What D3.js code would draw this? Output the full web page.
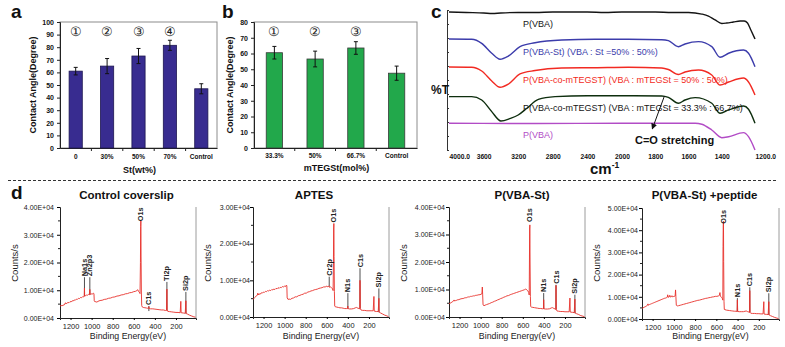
<!DOCTYPE html>
<html>
<head>
<meta charset="utf-8">
<script src="https://cdn.jsdelivr.net/npm/d3@7"></script>
<style>
  body { margin: 0; background: #fff; }
  svg { display: block; }
  text { font-family: "Liberation Sans", Arial, sans-serif; }
</style>
</head>
<body>
<svg id="fig" width="785" height="347"></svg>
<script>
// ---------------- data ----------------
// (a) contact angle vs styrene content
const stCategories = ["0", "30%", "50%", "70%", "Control"];
const stAngles = [61, 65, 73, 81.5, 47];
const stErrors = [3, 6, 6, 4, 4];
const stMarks = ["\u2460", "\u2461", "\u2462", "\u2463"];

// (b) contact angle vs mTEGSt content
const tegCategories = ["33.3%", "50%", "66.7%", "Control"];
const tegAngles = [60.5, 56.5, 63.5, 47.5];
const tegErrors = [4, 5, 4, 4.5];
const tegMarks = ["\u2460", "\u2461", "\u2462"];

// (c) FTIR spectra: [wavenumber, offset %T]
const ftirTicks = [4000, 3600, 3200, 2800, 2400, 2000, 1800, 1600, 1400, 1200];
const irVBA = [[4000,98.6],[3800,98.2],[3600,97.9],[3500,97.5],[3400,97.9],[3200,98.2],[3000,98.2],[2800,98.6],[2600,98.6],[2400,98.6],[2200,98.2],[2000,98.6],[1800,98.6],[1700,98.2],[1600,98.2],[1520,97.1],[1480,95.7],[1440,92.9],[1400,90.4],[1370,90.7],[1330,91.4],[1290,92.1],[1265,92.1],[1245,90.7],[1225,85.7],[1200,79.3]];
const irVBASt = [[4000,79.3],[3738,79.1],[3622,76.2],[3506,69.1],[3410,64.8],[3314,67.1],[3179,73.8],[3006,76.6],[2697,78.6],[2312,79.1],[1962,79.1],[1761,78.8],[1721,78.1],[1661,73.8],[1621,75.7],[1540,77.4],[1460,73.8],[1410,66.2],[1359,69.1],[1269,71.4],[1239,69.1],[1200,59.5]];
const irTEG50 = [[4000,59.3],[3738,59.1],[3622,56.4],[3506,49.3],[3410,44.8],[3314,47.1],[3179,54.3],[3006,56.8],[2697,58.6],[2312,58.8],[1962,59.1],[1761,58.6],[1721,57.5],[1661,53.9],[1621,55.7],[1540,57.1],[1460,53.6],[1410,46.4],[1359,48.6],[1269,51.4],[1239,48.6],[1200,39.3]];
const irTEG67 = [[4000,38.1],[3738,38.1],[3622,35.7],[3506,27.4],[3400,20.7],[3290,22.6],[3200,25],[3100,29.8],[2967,36.2],[2774,38.1],[2400,38.8],[2000,38.8],[1761,38.6],[1721,37.6],[1661,33.4],[1621,35.7],[1560,37.4],[1460,33.4],[1410,26.2],[1359,28.6],[1269,31.4],[1239,29.1],[1200,19.1]];
const irVBA2 = [[4000,19.1],[3000,18.9],[2000,19.1],[1560,19.1],[1520,18.4],[1460,14.3],[1400,8.8],[1359,9.5],[1269,12.4],[1239,9.5],[1200,0]];
const irNames = ["P(VBA)", "P(VBA-St) (VBA : St =50% : 50%)",
  "P(VBA-co-mTEGST)  (VBA : mTEGSt  = 50% : 50%)",
  "P(VBA-co-mTEGST)  (VBA : mTEGSt  = 33.3% : 66.7%)", "P(VBA)"];
const irColors = ["#141414", "#3c3cab", "#f22a22", "#0e2e0e", "#b24cc6"];
const irLabelLevels = [88, 67.9, 47.6, 27.9, 8.8];

// (d) XPS survey spectra: [binding energy eV, counts/s]
const xpsTicks = [1200, 1000, 800, 600, 400, 200];
const xpsControl = [[1300,4300],[1290,4500],[1280,4400],[1270,4700],[1262,4600],[1255,5000],[1248,5500],[1244,5100],[1235,5300],[1225,5600],[1215,5500],[1205,5900],[1195,5800],[1185,6200],[1175,6100],[1165,6500],[1155,6400],[1145,6800],[1135,6700],[1125,7100],[1115,7000],[1105,7400],[1095,7300],[1085,7700],[1075,7600],[1070,7900],[1068,10800],[1066,7900],[1058,8000],[1050,8300],[1040,8200],[1030,8500],[1020,8400],[1017,10300],[1014,8500],[1005,8700],[995,8600],[985,8900],[978,8800],[975,6200],[968,5800],[960,5900],[950,5700],[940,6000],[920,6300],[900,6400],[880,6700],[860,6800],[840,7100],[820,7200],[800,7500],[780,7600],[760,7900],[740,8000],[720,8300],[700,8400],[680,8700],[660,8800],[640,9100],[620,9200],[600,9500],[585,9600],[570,9900],[562,10200],[556,9600],[548,9300],[541,8800],[537,20000],[535,33000],[533,35000],[531,22000],[528,9000],[525,4500],[520,4000],[510,3800],[495,3700],[480,3600],[468,3500],[460,3500],[457,4100],[454,3400],[440,3300],[420,3300],[400,3200],[380,3100],[360,3000],[340,2900],[320,2900],[300,2700],[290,2700],[286,10400],[283,2900],[278,2400],[260,2300],[240,2200],[220,2100],[200,2000],[180,2000],[160,1900],[154,6000],[151,1900],[130,1800],[112,1700],[106,6200],[103,1600],[90,1400],[70,1000],[50,700],[30,400],[15,300]];
const xpsAptes = [[1300,4800],[1292,5000],[1284,5300],[1276,5500],[1268,5800],[1260,5900],[1254,6500],[1250,6000],[1242,6300],[1232,6200],[1222,6600],[1212,6500],[1202,6800],[1192,6700],[1182,7000],[1172,6900],[1162,7200],[1152,7100],[1142,7300],[1132,7200],[1122,7500],[1112,7400],[1102,7600],[1092,7500],[1082,7800],[1072,7700],[1062,8000],[1052,7800],[1042,8100],[1032,8000],[1022,8300],[1012,8200],[1002,8400],[992,8300],[984,8700],[979,8500],[976,5200],[968,4800],[958,4900],[945,4800],[930,5100],[915,5200],[900,5500],[885,5500],[870,5800],[855,5900],[840,6100],[825,6200],[810,6500],[795,6500],[780,6800],[765,6900],[750,7100],[735,7200],[720,7400],[705,7500],[690,7600],[675,7800],[660,7900],[645,8000],[630,8200],[615,8200],[600,8400],[590,8200],[580,8500],[575,8100],[565,8200],[555,8000],[546,7700],[540,7200],[537,15000],[535,24000],[533,25500],[531,16500],[528,7000],[525,3000],[520,2800],[505,2700],[490,2600],[475,2500],[460,2500],[445,2400],[430,2300],[415,2300],[403,2300],[401,3000],[398,2300],[385,2200],[365,2200],[345,2300],[330,2500],[318,2600],[305,2400],[293,2300],[287,2200],[285,10000],[282,2300],[275,1900],[260,1800],[240,1800],[220,1700],[200,1700],[180,1700],[160,1700],[153,5600],[150,1600],[130,1500],[112,1500],[106,5100],[103,1300],[90,1100],[70,800],[50,500],[30,300],[15,100]];
const xpsVbaSt = [[1300,4800],[1290,5000],[1280,5200],[1270,5500],[1260,5700],[1252,6200],[1246,5800],[1236,6000],[1226,6100],[1216,6300],[1206,6300],[1196,6500],[1186,6600],[1176,6700],[1166,6700],[1156,6900],[1146,7000],[1136,7000],[1126,7200],[1116,7300],[1106,7300],[1096,7500],[1086,7500],[1076,7600],[1066,7700],[1056,7700],[1046,7900],[1036,7900],[1026,8000],[1016,8100],[1006,8100],[996,8300],[988,8400],[984,10900],[981,8300],[977,4400],[968,4100],[958,4300],[945,4500],[930,4700],[915,4900],[900,5200],[885,5400],[870,5700],[855,5900],[840,6200],[825,6400],[810,6700],[795,6900],[780,7200],[765,7400],[750,7700],[735,7800],[720,8100],[705,8300],[690,8500],[675,8700],[660,8900],[645,9100],[630,9300],[615,9500],[600,9700],[585,9900],[572,10200],[562,9800],[552,9500],[544,9000],[539,8000],[537,20000],[535,32000],[533,33500],[531,20000],[528,7500],[525,3800],[518,3600],[505,3500],[490,3400],[475,3300],[460,3200],[445,3100],[430,3100],[415,3000],[404,3000],[402,6300],[399,3000],[385,2900],[365,2900],[345,3000],[330,3300],[318,3400],[305,3100],[292,2900],[287,2700],[285,11500],[282,2800],[276,2200],[260,2100],[240,2000],[220,2000],[200,1900],[180,1900],[160,1900],[153,6900],[150,1800],[130,1700],[112,1600],[106,6500],[103,1400],[90,1200],[70,900],[50,500],[30,300],[15,100]];
const xpsPeptide = [[1300,4800],[1290,5000],[1280,5300],[1270,5500],[1260,5800],[1250,6100],[1244,6800],[1240,6200],[1230,6500],[1220,6700],[1210,6900],[1200,7100],[1190,7300],[1180,7500],[1170,7700],[1160,7900],[1150,8100],[1140,8300],[1130,8500],[1120,8700],[1110,8900],[1100,9100],[1090,9300],[1080,9400],[1070,9600],[1062,9800],[1058,10900],[1054,9800],[1045,9900],[1038,10700],[1034,9900],[1025,10000],[1018,10500],[1014,10000],[1005,10100],[995,10200],[988,10300],[984,13100],[981,10200],[977,6200],[968,5900],[955,6000],[940,6200],[925,6400],[910,6600],[895,6800],[880,7000],[865,7200],[850,7400],[835,7600],[820,7800],[805,8000],[790,8200],[775,8400],[760,8500],[745,8700],[730,8900],[715,9100],[700,9300],[685,9400],[670,9600],[655,9700],[640,9900],[625,10000],[610,10200],[595,10200],[580,10400],[572,10600],[566,11900],[562,10300],[552,9800],[544,9300],[539,8500],[537,32700],[535,42000],[533,44000],[531,26000],[528,8000],[525,4300],[520,4500],[516,4100],[505,4000],[490,3900],[475,3800],[460,3700],[445,3600],[430,3500],[415,3500],[405,3400],[402,8600],[399,3400],[385,3300],[365,3300],[345,3300],[330,3500],[318,3600],[305,3300],[292,3100],[287,3000],[285,12800],[282,3000],[276,2600],[260,2500],[240,2500],[220,2400],[200,2400],[180,2300],[160,2300],[153,7800],[150,2200],[130,2100],[112,2000],[106,7800],[103,1800],[90,1500],[70,1100],[50,700],[30,400],[15,200]];

// peak annotations: name, energy, where the label starts, where its marker line ends
const peaksControl = [
  {name: "Na1s", e: 1068, at: 14700, to: 7900},
  {name: "Zn2p3", e: 1017, at: 14700, to: 8400},
  {name: "O1s", e: 533, at: 34500, to: null},
  {name: "C1s", e: 457, at: 4300, to: 2500},
  {name: "Ti2p", e: 286, at: 13000, to: 2800},
  {name: "Si2p", e: 106, at: 9400, to: 1600}
];
const peaksAptes = [
  {name: "Cr2p", e: 577, at: 11000, to: 8300},
  {name: "O1s", e: 534, at: 25500, to: null},
  {name: "N1s", e: 400, at: 6500, to: 2300},
  {name: "C1s", e: 285, at: 13300, to: 2300},
  {name: "Si2p", e: 106, at: 7800, to: 1300}
];
const peaksVbaSt = [
  {name: "O1s", e: 534, at: 34200, to: null},
  {name: "N1s", e: 402, at: 8700, to: 3000},
  {name: "C1s", e: 285, at: 11700, to: 2800},
  {name: "Si2p", e: 106, at: 8100, to: 1400}
];
const peaksPeptide = [
  {name: "O1s", e: 535, at: 42500, to: null},
  {name: "N1s", e: 402, at: 9400, to: 3400},
  {name: "C1s", e: 285, at: 14300, to: 3000},
  {name: "Si2p", e: 106, at: 11600, to: 1800}
];

// ---------------- drawing ----------------
const svg = d3.select("#fig");
svg.append("rect").attr("width", 785).attr("height", 347).attr("fill", "#fff");

function panelLetter(txt, x, y) {
  svg.append("text").attr("x", x).attr("y", y).attr("font-size", 19)
    .attr("font-weight", "bold").attr("fill", "#111").text(txt);
}

function barPanel(cfg) {
  const g = svg.append("g");
  const x = d3.scaleBand().domain(cfg.categories).range([cfg.left, cfg.right]);
  const y = d3.scaleLinear().domain([0, cfg.yMax]).range([cfg.bottom, cfg.top]);

  g.append("rect").attr("x", cfg.left).attr("y", cfg.top)
    .attr("width", cfg.right - cfg.left).attr("height", cfg.bottom - cfg.top)
    .attr("fill", "none").attr("stroke", "#8c8c8c").attr("stroke-width", 1);

  const ya = g.append("g").attr("transform", `translate(${cfg.left},0)`)
    .call(d3.axisLeft(y).tickValues(d3.range(0, cfg.yMax + 1, 10)).tickSize(3).tickPadding(3));
  ya.select(".domain").attr("stroke", "#222");
  ya.selectAll(".tick line").attr("stroke", "#222");
  ya.selectAll("text").attr("font-size", 7).attr("font-weight", "bold").attr("fill", "#111")
    .attr("font-family", "'Liberation Sans', Arial, sans-serif");

  const xa = g.append("g").attr("transform", `translate(0,${cfg.bottom})`)
    .call(d3.axisBottom(x).tickSize(0));
  xa.select(".domain").attr("stroke", "#222");
  xa.selectAll("text").attr("y", cfg.tickY).attr("dy", 0).attr("font-size", 6.5)
    .attr("font-weight", "bold").attr("fill", "#111")
    .attr("font-family", "'Liberation Sans', Arial, sans-serif");
  // category boundary ticks
  g.selectAll(".bt").data(cfg.categories.slice(1)).join("line")
    .attr("x1", d => x(d)).attr("x2", d => x(d))
    .attr("y1", cfg.bottom).attr("y2", cfg.bottom + 3).attr("stroke", "#222");

  const bw = x.bandwidth() * cfg.barFrac;
  const cx = (d, i) => x(cfg.categories[i]) + x.bandwidth() / 2;
  g.selectAll(".bar").data(cfg.values).join("rect")
    .attr("x", (d, i) => cx(d, i) - bw / 2).attr("width", bw)
    .attr("y", d => y(d)).attr("height", d => cfg.bottom - y(d))
    .attr("fill", cfg.color).attr("stroke", cfg.stroke).attr("stroke-width", 0.8);

  // error bars
  const eb = g.selectAll(".eb").data(cfg.values).join("g");
  eb.append("line").attr("x1", cx).attr("x2", cx)
    .attr("y1", (d, i) => y(d + cfg.errors[i])).attr("y2", (d, i) => y(d - cfg.errors[i]))
    .attr("stroke", "#111").attr("stroke-width", 1);
  eb.append("line").attr("x1", (d, i) => cx(d, i) - 2).attr("x2", (d, i) => cx(d, i) + 2)
    .attr("y1", (d, i) => y(d + cfg.errors[i])).attr("y2", (d, i) => y(d + cfg.errors[i]))
    .attr("stroke", "#111");
  eb.append("line").attr("x1", (d, i) => cx(d, i) - 2).attr("x2", (d, i) => cx(d, i) + 2)
    .attr("y1", (d, i) => y(d - cfg.errors[i])).attr("y2", (d, i) => y(d - cfg.errors[i]))
    .attr("stroke", "#111");

  // sample numbers
  g.selectAll(".mk").data(cfg.marks).join("text")
    .attr("x", (d, i) => x(cfg.categories[i]) + x.bandwidth() / 2).attr("y", cfg.markY)
    .attr("text-anchor", "middle").attr("font-size", 12.5)
    .attr("font-family", "'Noto Sans CJK JP', 'DejaVu Sans', sans-serif")
    .attr("fill", "#222").text(d => d);

  g.append("text").attr("transform", `translate(${cfg.yTitleX},${(cfg.top + cfg.bottom) / 2}) rotate(-90)`)
    .attr("text-anchor", "middle").attr("font-size", 9).attr("font-weight", "bold")
    .attr("fill", "#111").text("Contact Angle(Degree)");
  g.append("text").attr("x", (cfg.left + cfg.right) / 2 + 1).attr("y", cfg.xTitleY)
    .attr("text-anchor", "middle").attr("font-size", 9).attr("font-weight", "bold")
    .attr("fill", "#111").text(cfg.xTitle);
}

panelLetter("a", 11, 18);
barPanel({categories: stCategories, values: stAngles, errors: stErrors, marks: stMarks,
  left: 60, right: 217, top: 22, bottom: 148, yMax: 100, barFrac: 0.42,
  color: "#382c90", stroke: "#1d1650", tickY: 11, markY: 35.5,
  yTitleX: 36, xTitle: "St(wt%)", xTitleY: 173});

panelLetter("b", 222, 18);
barPanel({categories: tegCategories, values: tegAngles, errors: tegErrors, marks: tegMarks,
  left: 254, right: 417, top: 22, bottom: 148, yMax: 80, barFrac: 0.4,
  color: "#22a84b", stroke: "#3a3a3a", tickY: 10, markY: 35.5,
  yTitleX: 233, xTitle: "mTEGSt(mol%)", xTitleY: 171});

// ---------- (c) FTIR ----------
panelLetter("c", 431, 18);
{
  const g = svg.append("g");
  const x = d3.scaleLinear().domain([4000, 2000, 1200]).range([449, 622, 755]);
  const y = d3.scaleLinear().domain([0, 100]).range([150, 10]);

  const ya = g.append("g").attr("transform", "translate(447,0)")
    .call(d3.axisLeft(y).tickValues(d3.range(0, 101, 10)).tickSize(-2).tickFormat(""));
  ya.select(".domain").attr("stroke", "#333");
  ya.selectAll(".tick line").attr("stroke", "#333");

  const xa = g.append("g").attr("transform", "translate(0,150)")
    .call(d3.axisBottom(x).tickValues(ftirTicks).tickSize(0).tickPadding(4)
      .tickFormat(v => (v === 4000 || v === 1200) ? v.toFixed(1) : String(v)));
  xa.select(".domain").remove();
  xa.selectAll("text").attr("font-size", 6.7).attr("font-weight", "bold").attr("fill", "#111")
    .attr("font-family", "'Liberation Sans', Arial, sans-serif")
    .attr("text-anchor", v => (v === 4000 || v === 1200) ? "start" : "middle");

  const line = d3.line().x(d => x(d[0])).y(d => y(d[1])).curve(d3.curveMonotoneX);
  [irVBA, irVBASt, irTEG50, irTEG67, irVBA2].forEach((s, i) => {
    g.append("path").datum(s).attr("d", line).attr("fill", "none")
      .attr("stroke", irColors[i]).attr("stroke-width", 1.4);
  });
  irNames.forEach((n, i) => {
    g.append("text").attr("x", x(3145)).attr("y", y(irLabelLevels[i]))
      .attr("font-size", 9).attr("fill", i === 3 ? "#141414" : irColors[i]).text(n);
  });

  g.append("text").attr("x", 431).attr("y", y(40))
    .attr("font-family", "'Liberation Serif', 'Times New Roman', serif")
    .attr("font-size", 12).attr("font-weight", "bold").attr("fill", "#111").text("%T");

  const cm = g.append("text").attr("x", 590).attr("y", 174).attr("font-size", 15)
    .attr("font-weight", "bold").attr("fill", "#111");
  cm.append("tspan").text("cm");
  cm.append("tspan").attr("dy", -6).attr("font-size", 8.5).text("-1");

  // C=O stretching annotation
  svg.append("defs").append("marker").attr("id", "arrowHead")
    .attr("viewBox", "0 0 10 10").attr("refX", 9).attr("refY", 5)
    .attr("markerWidth", 6).attr("markerHeight", 6).attr("orient", "auto")
    .append("path").attr("d", "M0,0 L10,5 L0,10 z").attr("fill", "#111");
  g.append("line").attr("x1", x(1745)).attr("y1", y(38.5)).attr("x2", x(1818)).attr("y2", y(15))
    .attr("stroke", "#111").attr("stroke-width", 1).attr("marker-end", "url(#arrowHead)");
  g.append("text").attr("x", x(1922)).attr("y", y(4.3)).attr("font-size", 11)
    .attr("font-weight", "bold").attr("fill", "#111").text("C=O stretching");
}

// separator
svg.append("line").attr("x1", 8).attr("x2", 778).attr("y1", 180.5).attr("y2", 180.5)
  .attr("stroke", "#333").attr("stroke-width", 1).attr("stroke-dasharray", "3,2");

// ---------- (d) XPS ----------
panelLetter("d", 11, 199);

function xpsPanel(cfg) {
  const g = svg.append("g");
  const x = d3.scaleLinear().domain([1300, 10]).range([cfg.left, cfg.right]);
  const y = d3.scaleLinear().domain([0, cfg.yMax]).range([cfg.bottom, cfg.top]);

  g.append("line").attr("x1", cfg.right).attr("x2", cfg.right)
    .attr("y1", cfg.top).attr("y2", cfg.bottom).attr("stroke", "#9c9c9c");

  const ya = g.append("g").attr("transform", `translate(${cfg.left},0)`)
    .call(d3.axisLeft(y).tickValues(d3.range(0, cfg.yMax + 1, 10000)).tickSize(3)
      .tickPadding(cfg.pad).tickFormat(v => (v / 1e4).toFixed(2) + "E+04"));
  ya.select(".domain").attr("stroke", "#222");
  ya.selectAll("text").attr("font-size", 7).attr("fill", "#222")
    .attr("font-family", "'Liberation Sans', Arial, sans-serif");
  g.selectAll(".minor").data(d3.range(5000, cfg.yMax, 10000)).join("line")
    .attr("x1", cfg.left - 2).attr("x2", cfg.left).attr("y1", d => y(d)).attr("y2", d => y(d))
    .attr("stroke", "#222");

  const xa = g.append("g").attr("transform", `translate(0,${cfg.bottom})`)
    .call(d3.axisBottom(x).tickValues(xpsTicks).tickSize(2).tickPadding(4).tickFormat(d3.format("d")));
  xa.select(".domain").attr("stroke", "#222");
  xa.selectAll("text").attr("font-size", 7.4).attr("fill", "#222")
    .attr("font-family", "'Liberation Sans', Arial, sans-serif");

  // marker lines sit under the spectrum
  cfg.peaks.filter(p => p.to !== null).forEach(p => {
    g.append("line").attr("x1", x(p.e)).attr("x2", x(p.e))
      .attr("y1", y(p.at)).attr("y2", y(p.to)).attr("stroke", "#222").attr("stroke-width", 0.8);
  });

  g.append("path").datum(cfg.data)
    .attr("d", d3.line().x(d => x(d[0])).y(d => y(d[1])))
    .attr("fill", "none").attr("stroke", "#e8302a").attr("stroke-width", 0.9);

  cfg.peaks.forEach(p => {
    g.append("text").attr("transform", `translate(${x(p.e)},${y(p.at) - 1}) rotate(-90)`)
      .attr("dy", "0.35em").attr("font-size", 7.3).attr("font-weight", "bold")
      .attr("fill", "#222").text(p.name);
  });

  g.append("text").attr("x", cfg.titleX).attr("y", 199)
    .attr("text-anchor", "middle").attr("font-size", 11.5).attr("font-weight", "bold")
    .attr("fill", "#111").text(cfg.title);
  g.append("text").attr("transform", `translate(${cfg.left - 42},263) rotate(-90)`)
    .attr("text-anchor", "middle").attr("font-size", 9.5).attr("fill", "#222").text("Counts/s");
  g.append("text").attr("x", (cfg.left + cfg.right) / 2).attr("y", 339)
    .attr("text-anchor", "middle").attr("font-size", 8.8).attr("fill", "#222")
    .text("Binding Energy(eV)");
}

xpsPanel({title: "Control coverslip", data: xpsControl, peaks: peaksControl, titleX: 126.5,
  left: 60, right: 196, top: 207, bottom: 318, yMax: 40000, pad: 3});
xpsPanel({title: "APTES", data: xpsAptes, peaks: peaksAptes, titleX: 314,
  left: 253, right: 389, top: 207, bottom: 317, yMax: 30000, pad: 0});
xpsPanel({title: "P(VBA-St)", data: xpsVbaSt, peaks: peaksVbaSt, titleX: 522,
  left: 449, right: 585, top: 207, bottom: 317, yMax: 40000, pad: 1});
xpsPanel({title: "P(VBA-St) +peptide", data: xpsPeptide, peaks: peaksPeptide, titleX: 704.5,
  left: 642, right: 779, top: 208, bottom: 319, yMax: 50000, pad: 1});
</script>
</body>
</html>
